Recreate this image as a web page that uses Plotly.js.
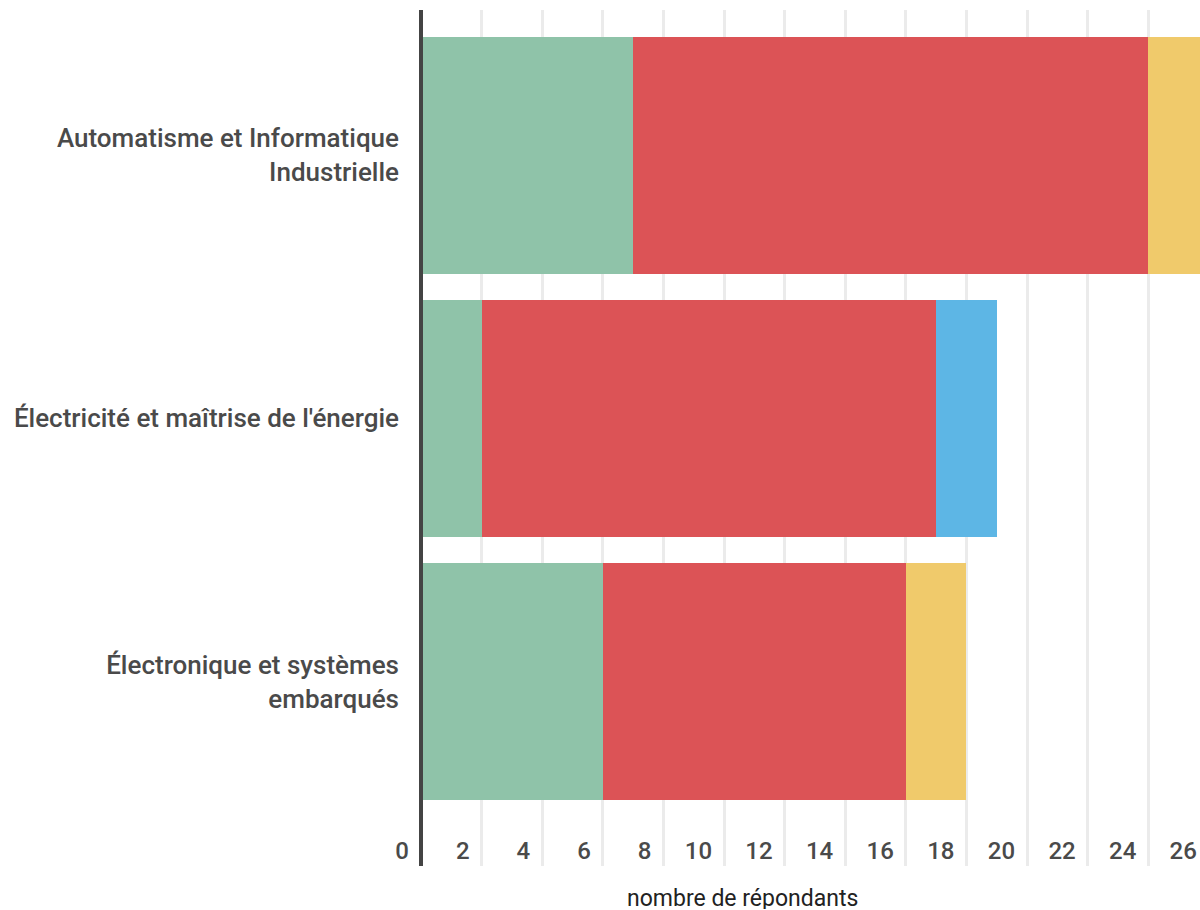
<!DOCTYPE html>
<html>
<head>
<meta charset="utf-8">
<script src="https://cdn.plot.ly/plotly-3.0.1.min.js"></script>
<style>
  html, body { margin: 0; padding: 0; overflow: hidden; background: #fff; }
  #chart { width: 1241px; height: 910px; }
</style>
</head>
<body>
<div id="chart"></div>
<script>
// Data
const categories = [
  "Automatisme et Informatique<br>Industrielle",
  "Électricité et maîtrise de l'énergie",
  "Électronique et systèmes<br>embarqués"
];
const seriesNames = ["Série 1", "Série 2", "Série 3", "Série 4"];
const serie1 = [7, 2, 6];
const serie2 = [17, 15, 10];
const serie3 = [2, 0, 2];
const serie4 = [0, 2, 0];
const seriesColors = ["#8fc3a9", "#dc5356", "#f0ca6b", "#5db6e5"];
const xTickValues = [0, 2, 4, 6, 8, 10, 12, 14, 16, 18, 20, 22, 24, 26];
const xTitle = "nombre de répondants";

const allSeries = [serie1, serie2, serie3, serie4];
const traces = allSeries.map((vals, i) => ({
  type: "bar",
  orientation: "h",
  name: seriesNames[i],
  y: categories,
  x: vals,
  marker: { color: seriesColors[i], line: { width: 0 } },
  hoverinfo: "x+name"
}));

const W = 1241, H = 910;
const mL = 421, mR = 0, mT = 10, mB = 44;
const plotW = W - mL - mR;
const plotH = H - mT - mB;

const layout = {
  width: W,
  height: H,
  margin: { l: mL, r: mR, t: mT, b: mB, pad: 0 },
  paper_bgcolor: "#ffffff",
  plot_bgcolor: "#ffffff",
  barmode: "stack",
  bargap: 0.1,
  showlegend: false,
  font: { family: "Roboto, sans-serif", color: "#4a4a4a" },
  xaxis: {
    range: [0, 27.06],
    tickvals: xTickValues,
    ticktext: xTickValues.map(String),
    showgrid: true,
    gridcolor: "#ebebeb",
    gridwidth: 3,
    zeroline: true,
    zerolinecolor: "#444444",
    zerolinewidth: 4,
    zerolinelayer: "above traces",
    showline: false,
    ticks: "",
    ticklabelposition: "inside left",
    ticklabeloverflow: "allow",
    ticklabelshift: -12,
    ticklabelstandoff: -4,
    tickfont: { family: "Roboto, sans-serif", size: 24, color: "#4a4a4a", weight: 500 },
    fixedrange: true
  },
  yaxis: {
    type: "category",
    range: [2.70, -0.551],
    showgrid: false,
    zeroline: false,
    showline: false,
    ticks: "",
    ticklabelstandoff: 21,
    tickfont: { family: "Roboto, sans-serif", size: 26, color: "#4a4a4a", weight: 500 },
    fixedrange: true
  },
  annotations: [{
    text: xTitle,
    xref: "paper",
    yref: "paper",
    x: (742.5 - mL) / plotW,
    y: -(898 - (H - mB)) / plotH,
    xanchor: "center",
    yanchor: "middle",
    height: 22,
    borderpad: 0,
    showarrow: false,
    font: { family: "Roboto, sans-serif", size: 23, color: "#222222" }
  }]
};

Plotly.newPlot("chart", traces, layout, { displayModeBar: false, staticPlot: true });
</script>
</body>
</html>
